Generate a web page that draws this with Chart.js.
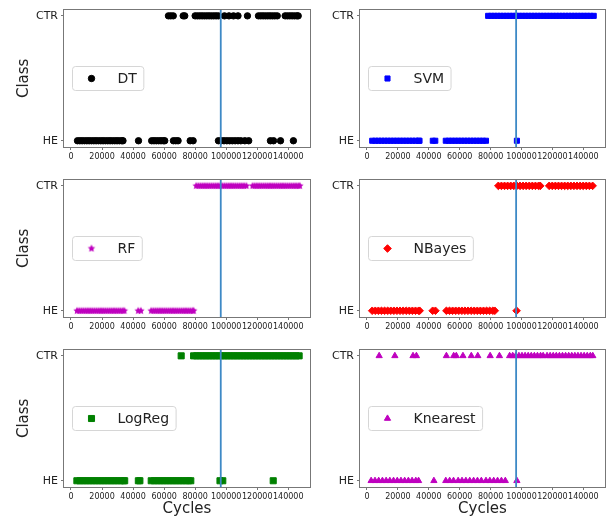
<!DOCTYPE html>
<html lang="en">
<head>
<meta charset="UTF-8">
<title>Classifier output vs cycles</title>
<script src="https://cdn.jsdelivr.net/npm/chart.js@4"></script>
<style>
  body { margin: 0; background: #fff; }
  #wrap { position: relative; width: 610px; height: 520px; }
  #wrap canvas { position: absolute; }
</style>
</head>
<body>
<div id="wrap">
  <canvas id="c0" width="320" height="170" style="left:0;top:0"></canvas>
  <canvas id="c1" width="310" height="170" style="left:300px;top:0"></canvas>
  <canvas id="c2" width="320" height="170" style="left:0;top:170px"></canvas>
  <canvas id="c3" width="310" height="170" style="left:300px;top:170px"></canvas>
  <canvas id="c4" width="320" height="180" style="left:0;top:340px"></canvas>
  <canvas id="c5" width="310" height="180" style="left:300px;top:340px"></canvas>
</div>
<script>
// axis ticks / classes
const xTicks = [0, 20000, 40000, 60000, 80000, 100000, 120000, 140000];
const classLabels = ['HE', 'CTR'];   // y = 0 and y = 1
const changeCycle = 96500;           // blue vertical marker

// cycles predicted as HE / CTR
const dtHE = [4200, 5700, 7200, 8700, 10200, 11700, 13200, 14700, 16200, 17700, 19200, 20700, 22200, 23700, 25200, 26700, 28200, 29700, 31200, 32700, 33500,
  43500, 52000, 53500, 55000, 56500, 58000, 59500, 60400, 66000, 67500, 69000, 76800, 78700,
  95000, 96800, 98600, 100400, 102200, 104000, 105800, 107600, 109400, 112000, 114500, 128500, 130500, 135000, 143300];
const dtCTR = [62800, 64300, 65900, 72300, 73300, 80000, 81500, 83000, 84500, 86000, 87500, 89000, 90500, 92000, 93500, 95000,
  98900, 101800, 104700, 107600, 113700, 120800, 122300, 123800, 125300, 126800, 128300, 129800, 131300, 132900,
  138000, 139500, 141000, 142500, 144000, 145500, 146400];

const svmHE = [3400, 5400, 7400, 9400, 11400, 13400, 15400, 17400, 19400, 21400, 23400, 25400, 27400, 29400, 31400, 33400, 34000,
  42600, 44200, 51000, 53000, 55000, 57000, 59000, 61000, 63000, 65000, 67000, 69000, 71000, 73000, 75000, 77000, 97000];
const svmCTR = [78400, 80400, 82400, 84400, 86400, 88400, 90400, 92400, 94400, 96400, 98400, 100400, 102400, 104400, 106400, 108400,
  110400, 112400, 114400, 116400, 118400, 120400, 122400, 124400, 126400, 128400, 130400, 132400, 134400, 136400, 138400,
  140400, 142400, 144400, 146700];

const rfHE = [3900, 5300, 6700, 8100, 9500, 10900, 12300, 13700, 15100, 16500, 17900, 19300, 20700, 22100, 23500, 24900, 26300,
  27700, 29100, 30500, 31900, 33300, 34400, 43300, 45000,
  51700, 53100, 54500, 55900, 57300, 58700, 60100, 61500, 62900, 64300, 65700, 67100, 68500, 69900, 71300, 72700, 74100,
  75500, 76900, 78300, 79000];
const rfCTR = [80700, 82100, 83500, 84900, 86300, 87700, 89100, 90500, 91900, 93300, 94700, 96100, 97500, 98900, 100300, 101700,
  103100, 104500, 105900, 107300, 108700, 110100, 111500, 113000,
  117000, 118400, 119800, 121200, 122600, 124000, 125400, 126800, 128200, 129600, 131000, 132400, 133800, 135200, 136600,
  138000, 139400, 140800, 142200, 143600, 145000, 146400, 147400];

const nbHE = [3400, 5400, 7400, 9400, 11400, 13400, 15400, 17400, 19400, 21400, 23400, 25400, 27400, 29400, 31400, 33400, 34100,
  42500, 44300, 51400, 53400, 55400, 57400, 59400, 61400, 63400, 65400, 67400, 69400, 71400, 73400, 75400, 77400, 79400, 81400, 82700, 96800];
const nbCTR = [85000, 87000, 89000, 91000, 93000, 95000, 97000, 99000, 101000, 103000, 105000, 107000, 109000, 111000, 112100,
  117900, 119900, 121900, 123900, 125900, 127900, 129900, 131900, 133900, 135900, 137900, 139900, 141900, 143900, 146000];

const lrHE = [3800, 5800, 7800, 9800, 11800, 13800, 15800, 17800, 19800, 21800, 23800, 25800, 27800, 29800, 31800, 33800, 34600,
  43400, 44400, 51700, 53700, 55700, 57700, 59700, 61700, 63700, 65700, 67700, 69700, 71700, 73700, 75700, 77200,
  96000, 97800, 130300];
const lrCTR = [71000, 79000, 81000, 83000, 85000, 87000, 89000, 91000, 93000, 95000, 97000, 99000, 101000, 103000, 105000, 107000,
  109000, 111000, 113000, 115000, 117000, 119000, 121000, 123000, 125000, 127000, 129000, 131000, 133000, 135000, 137000,
  139000, 141000, 143000, 145000, 147000];

const knHE = [2700, 5200, 7600, 10000, 12400, 14800, 17200, 19600, 22000, 24400, 26800, 29200, 31600, 33400, 43300,
  51000, 53500, 56000, 59000, 61500, 64000, 66500, 69000, 71500, 74000, 77000, 79500, 82000, 84500, 87000, 89500, 97000];
const knCTR = [7900, 18050, 29800, 32000, 51400, 56100, 57800, 62100, 67500, 71700, 79700, 85700,
  92300, 94300, 96300, 98300, 100300, 102300, 104300, 106300, 108300, 110300, 112300, 114000, 116500, 118500, 120500,
  122500, 124500, 126500, 128500, 130500, 132500, 134500, 136500, 138500, 140500, 142500, 144500, 146100];

Chart.defaults.font.family = '"DejaVu Sans", sans-serif';
Chart.defaults.color = '#222';

// filled 5-point star like matplotlib's '*'
function starImage(color, outer, inner) {
  const size = Math.ceil(outer * 2 + 2);
  const c = document.createElement('canvas');
  c.width = c.height = size;
  const g = c.getContext('2d');
  g.beginPath();
  for (let i = 0; i < 10; i++) {
    const r = i % 2 ? inner : outer;
    const a = -Math.PI / 2 + i * Math.PI / 5;
    const px = size / 2 + r * Math.cos(a), py = size / 2 + r * Math.sin(a);
    if (i === 0) g.moveTo(px, py); else g.lineTo(px, py);
  }
  g.closePath();
  g.fillStyle = color;
  g.fill();
  return c;
}

const panels = [
  { id: 'c0', name: 'DT', he: dtHE, ctr: dtCTR, color: '#000000', style: 'circle', r: 3.2 },
  { id: 'c1', name: 'SVM', he: svmHE, ctr: svmCTR, color: '#0000ff', style: 'rect', r: 3.6 },
  { id: 'c2', name: 'RF', he: rfHE, ctr: rfCTR, color: '#bf00bf', style: starImage('#bf00bf', 3.9, 2.0), r: 4 },
  { id: 'c3', name: 'NBayes', he: nbHE, ctr: nbCTR, color: '#ff0000', style: 'rectRot', r: 3.8 },
  { id: 'c4', name: 'LogReg', he: lrHE, ctr: lrCTR, color: '#008000', style: 'rect', r: 4.3 },
  { id: 'c5', name: 'Knearest', he: knHE, ctr: knCTR, color: '#bf00bf', style: 'triangle', r: 3.6 }
];

// axes box + legend box at centre left
const frameAndLegend = {
  id: 'frameAndLegend',
  afterDraw(chart) {
    const { ctx, chartArea: a } = chart;
    const ds = chart.data.datasets[1];
    ctx.save();
    ctx.strokeStyle = '#777';
    ctx.lineWidth = 1;
    ctx.strokeRect(Math.round(a.left) - 0.5, Math.round(a.top) - 0.5, Math.round(a.right - a.left) + 1, Math.round(a.bottom - a.top) + 1);

    ctx.font = '14px "DejaVu Sans"';
    const tw = ctx.measureText(ds.label).width;
    const w = 45 + tw + 7, h = 24;
    const x0 = Math.round(a.left + 8) + 0.5;
    const y0 = Math.round((a.top + a.bottom) / 2 - h / 2) + 0.5;
    ctx.beginPath();
    ctx.roundRect(x0, y0, w, h, 3);
    ctx.fillStyle = 'rgba(255,255,255,0.8)';
    ctx.fill();
    ctx.strokeStyle = '#d6d6d6';
    ctx.stroke();

    ctx.fillStyle = ds.backgroundColor;
    ctx.strokeStyle = ds.borderColor;
    ctx.lineWidth = ds.borderWidth;
    Chart.helpers.drawPoint(ctx, { pointStyle: ds.pointStyle, radius: ds.pointRadius, borderWidth: ds.borderWidth, rotation: 0 }, x0 + 19, y0 + h / 2);

    ctx.fillStyle = '#222';
    ctx.textBaseline = 'middle';
    ctx.fillText(ds.label, x0 + 45, y0 + h / 2 + 1);
    ctx.restore();
  }
};

panels.forEach((p, i) => {
  const col = i % 2, row = Math.floor(i / 2);
  const pts = p.he.map(x => ({ x: x, y: 0 })).concat(p.ctr.map(x => ({ x: x, y: 1 })));
  new Chart(document.getElementById(p.id), {
    type: 'scatter',
    data: {
      datasets: [
        {
          type: 'line',
          label: 'change',
          data: [{ x: changeCycle, y: -0.05 }, { x: changeCycle, y: 1.05 }],
          borderColor: '#3d89c6',
          borderWidth: 1.8,
          pointRadius: 0
        },
        {
          label: p.name,
          data: pts,
          pointStyle: p.style,
          pointRadius: p.r,
          backgroundColor: p.color,
          borderColor: p.color,
          borderWidth: 1
        }
      ]
    },
    options: {
      responsive: false,
      animation: false,
      events: [],
      layout: { padding: { top: 5, left: 0, right: col === 0 ? 10 : 4, bottom: 0 } },
      plugins: { legend: { display: false }, tooltip: { enabled: false } },
      scales: {
        x: {
          type: 'linear',
          min: -4500,
          max: 154000,
          afterBuildTicks: s => { s.ticks = xTicks.map(v => ({ value: v })); },
          afterFit: s => { s.height = row === 2 ? 33 : 23; },
          ticks: { autoSkip: false, maxRotation: 0, font: { size: 8 }, padding: 2, callback: v => String(v) },
          grid: { drawOnChartArea: false, tickLength: 3, color: '#777' },
          border: { display: false },
          title: { display: row === 2, text: 'Cycles', font: { size: 15 }, padding: { top: 0, bottom: 2 } }
        },
        y: {
          type: 'linear',
          min: -0.05,
          max: 1.05,
          afterBuildTicks: s => { s.ticks = [{ value: 0 }, { value: 1 }]; },
          afterFit: s => { s.width = col === 0 ? 64 : 60; },
          ticks: { font: { size: 11 }, padding: 3, callback: v => classLabels[v] },
          grid: { drawOnChartArea: false, tickLength: 3, color: '#777' },
          border: { display: false },
          title: { display: col === 0, text: 'Class', font: { size: 15 }, padding: { top: 15, bottom: 0 } }
        }
      }
    },
    plugins: [frameAndLegend]
  });
});
</script>
</body>
</html>
